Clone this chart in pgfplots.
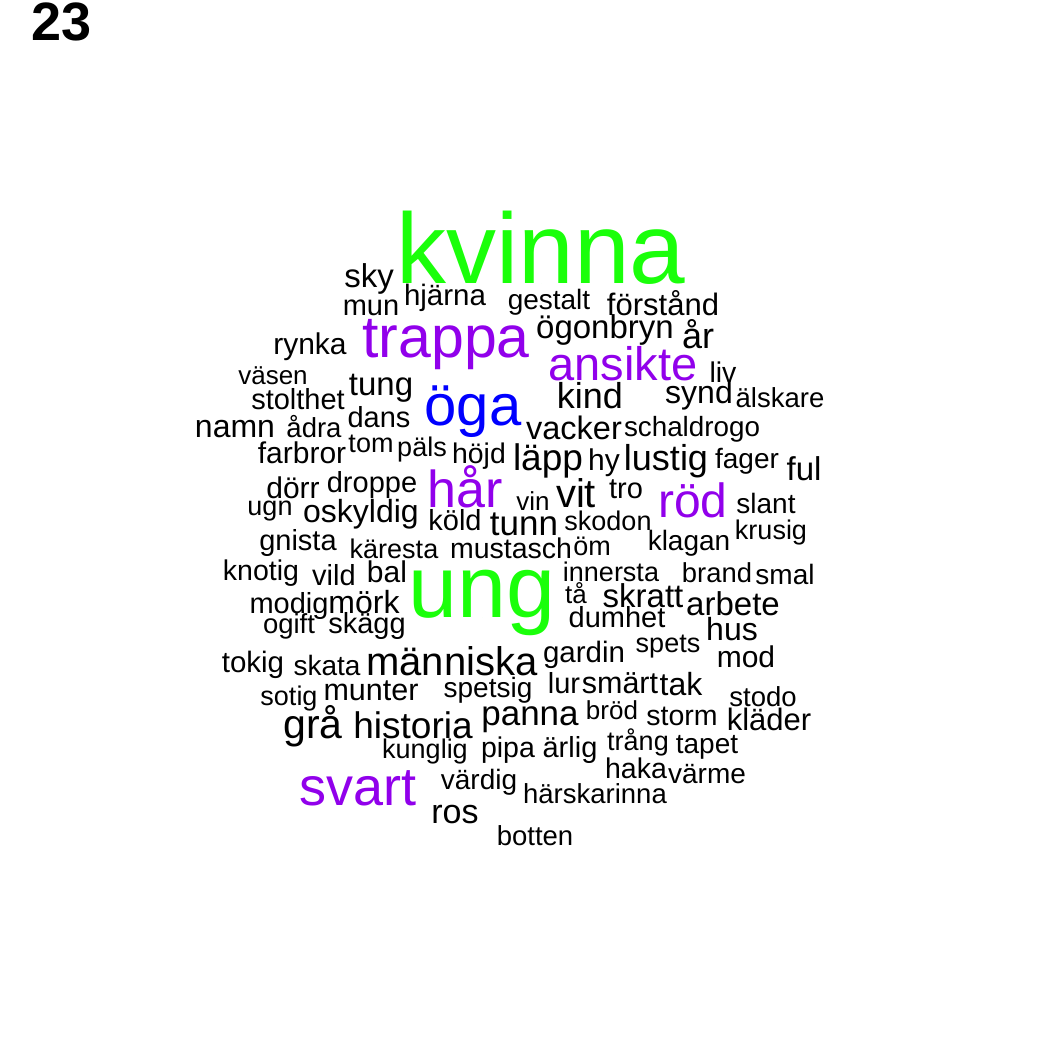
\documentclass[border=0pt]{standalone}
\usepackage{fontspec}
\setmainfont{Liberation Sans}
\usepackage{pgfplots}
\usepackage{pgfplotstable}
\pgfplotsset{compat=1.18}
\definecolor{wgreen}{RGB}{26,255,10}
\definecolor{wpurple}{RGB}{145,0,235}
\definecolor{wblue}{RGB}{0,0,255}

\pgfplotstableread{
x y s label
541 283 100 kvinna
482 617 88 ung
}\greenwords

\pgfplotstableread{
x y s label
473 425 58 öga
}\bluewords

\pgfplotstableread{
x y s label
446 357 59 trappa
623 380 47 ansikte
465 507 52 hår
693 517 48 röd
358 805 54 svart
}\purplewords

\pgfplotstableread{
x y s label
369 287 33 sky
371 315 29 mun
445 305 29.5 hjärna
549 309 28 gestalt
663 315 31 förstånd
310 354 30 rynka
605 338 33 ögonbryn
698 348 36 år
273 384 26 väsen
723 382 28.5 liv
298 409 29 stolthet
381 395 33 tung
379 427 29 dans
590 408 36 kind
699 403 32 synd
780 407 27.5 älskare
235 437 32 namn
314 437 27.5 ådra
574 439 32.5 vacker
692 436 27.8 schaldrogo
371 452 27 tom
422 456 27 päls
479 463 28.4 höjd
302 463 30 farbror
548 470 37 läpp
604 470 30 hy
666 470 36 lustig
747 468 28 fager
804 480 33 ful
293 498 30 dörr
372 492 29 droppe
270 515 27 ugn
361 522 32 oskyldig
455 530 29 köld
533 510 26 vin
576 507 40 vit
626 498 29 tro
766 513 28 slant
524 535 35 tunn
608 530 27 skodon
771 539 27 krusig
689 550 28 klagan
298 550 29 gnista
394 558 27 käresta
511 558 28.5 mustasch
592 555 27 öm
261 580 28.5 knotig
334 585 29 vild
387 582 30 bal
611 581 27 innersta
717 582 27.4 brand
785 584 28 smal
576 603 26 tå
643 607 33 skratt
733 615 33 arbete
617 627 29 dumhet
732 640 32 hus
289 613 29 modig
364 613 32 mörk
289 633 27.5 ogift
367 633 29 skägg
253 672 29.5 tokig
327 675 28 skata
452 675 40 människa
584 662 29.5 gardin
668 652 27 spets
746 667 30 mod
289 705 27 sotig
371 700 30.5 munter
488 697 28 spetsig
564 693 29 lur
620 693 30.5 smärt
681 695 32 tak
763 706 27.5 stodo
313 738 41 grå
413 738 37 historia
530 725 35 panna
612 719 26 bröd
682 725 28.5 storm
769 730 31 kläder
425 758 27 kunglig
508 757 28.5 pipa
570 757 29 ärlig
638 750 27 trång
707 753 28 tapet
636 778 28.5 haka
707 783 28 värme
479 789 28 värdig
595 803 27.5 härskarinna
455 823 34 ros
535 845 27.5 botten
}\blackwords

\pgfplotsset{
  words/.style={
    only marks, mark=*, mark size=0pt,
    mark options={draw=none, fill=none},
    nodes near coords,
    point meta=explicit symbolic,
    visualization depends on={\thisrow{s} \as \fs},
    nodes near coords align={anchor=base},
    every node near coord/.append style={
      font=\fontsize{\fs bp}{\fs bp}\selectfont,
      inner sep=0pt, outer sep=0pt, anchor=base},
  }
}

\begin{document}
\begin{tikzpicture}
\begin{axis}[
  scale only axis, width=1050bp, height=1050bp,
  xmin=0, xmax=1050, ymin=0, ymax=1050,
  y dir=reverse, hide axis, clip=false,
]
\addplot[words, color=wgreen] table[x=x, y=y, meta=label] {\greenwords};
\addplot[words, color=wblue] table[x=x, y=y, meta=label] {\bluewords};
\addplot[words, color=wpurple] table[x=x, y=y, meta=label] {\purplewords};
\addplot[words, color=black] table[x=x, y=y, meta=label] {\blackwords};
\node[anchor=base west, inner sep=0pt, font=\fontsize{54bp}{54bp}\selectfont\bfseries] at (axis cs:31,41) {23};
\end{axis}
\pgfresetboundingbox
\path (current axis.south west) rectangle (current axis.north east);
\end{tikzpicture}
\end{document}
